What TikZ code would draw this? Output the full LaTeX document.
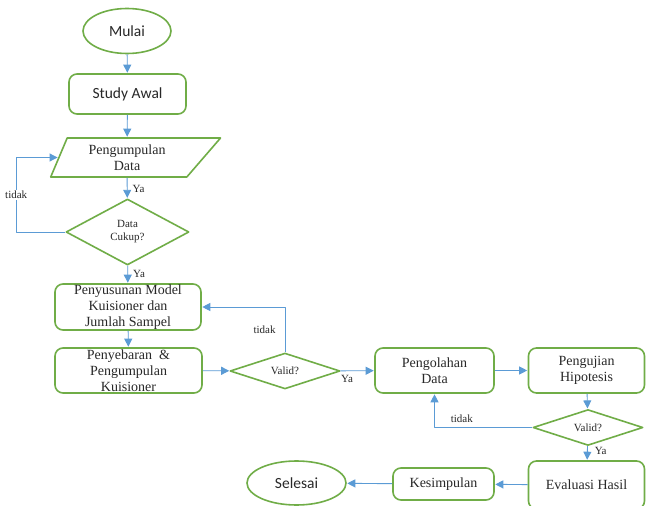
\documentclass[tikz,border=0pt]{standalone}
\usepackage{fontspec}
\setmainfont{Liberation Serif}
\newfontfamily\calibri{Carlito}
\usetikzlibrary{shapes.geometric,arrows.meta}
\definecolor{hijau}{RGB}{112,173,71}
\definecolor{biru}{RGB}{91,155,213}
\definecolor{teks}{RGB}{40,40,40}
\begin{document}
\begin{tikzpicture}[x=1pt,y=-1pt,>={Triangle[length=8pt,width=8pt]},line join=round,
    kotak/.style={draw=hijau,line width=1.6pt,rounded corners=8pt,align=center,inner sep=0pt,text=teks,font=\fontsize{14}{16}\selectfont},
    oval/.style={draw=hijau,line width=1.6pt,ellipse,inner sep=0pt,text=teks,font=\calibri\fontsize{15.5}{18}\selectfont},
    belah/.style={draw=hijau,line width=1.6pt,diamond,inner sep=0pt,align=center,text=teks,font=\fontsize{11}{13}\selectfont},
    panah/.style={->,draw=biru,line width=0.9pt,shorten >=0.5pt},
    ket/.style={text=teks,font=\fontsize{11}{13}\selectfont,inner sep=1pt}]
    \useasboundingbox[fill=white] (0,0) rectangle (646,506);
    %	\draw[step=20,gray,very thin] (0,0) grid (646,506);
    \node[oval,minimum width=88,minimum height=45] (mulai) at (127,31) {Mulai};
    \node[kotak,font=\calibri\fontsize{15.5}{18}\selectfont,minimum width=117,minimum height=40] (study) at (127.5,94) {Study Awal};
    \node[draw=hijau,line width=1.6pt,trapezium,trapezium left angle=67.7,trapezium right angle=130,
        trapezium stretches,minimum width=170,minimum height=39,inner sep=0pt,align=center,
        text=teks,font=\fontsize{14}{16}\selectfont] (kumpul) at (127,157.5) {Pengumpulan\\Data};
    \node[belah,minimum width=123,minimum height=66] (cukup) at (127.5,232) {Data\\Cukup?};
    \node[kotak,minimum width=146,minimum height=46] (susun) at (128,307) {Penyusunan Model\\Kuisioner dan\\Jumlah Sampel};
    \node[kotak,minimum width=147,minimum height=45] (sebar) at (128.5,370.5) {Penyebaran\ \ \&\\Pengumpulan\\Kuisioner};
    \node[belah,minimum width=110,minimum height=34] (valid1) at (285,371) {Valid?};
    \node[kotak,minimum width=119,minimum height=45] (olah) at (434.5,370.5) {Pengolahan\\Data};
    \node[kotak,minimum width=116,minimum height=45] (uji) at (586.5,370.5) {Pengujian\\Hipotesis};
    \node[belah,minimum width=110,minimum height=35] (valid2) at (588,427.5) {Valid?};
    \node[kotak,minimum width=116,minimum height=48] (evaluasi) at (586.5,485) {Evaluasi Hasil};
    \node[kotak,minimum width=101,minimum height=32] (simpul) at (443.5,484) {Kesimpulan};
    \node[oval,minimum width=99,minimum height=44] (selesai) at (296.5,483) {Selesai};

    \draw[panah] (mulai) -- (study);
    \draw[panah] (study) -- (kumpul);
    \draw[panah] (kumpul) -- node[ket,right=4pt,pos=0.55]{Ya} (cukup);
    \draw[panah] (cukup.west) -- ++(-49,0) |- node[ket,fill=white,pos=0.25]{tidak} (kumpul.west);
    \draw[panah] (cukup) -- node[ket,right=4pt,pos=0.5]{Ya} (susun);
    \draw[panah] (susun) -- (sebar);
    \draw[panah] (sebar) -- (valid1);
    \draw[panah] (valid1.north) |- node[ket,left=8pt,pos=0.25]{tidak} (susun.east);
    \draw[panah] (valid1) -- node[ket,below=3pt,pos=0.2]{Ya} (olah);
    \draw[panah] (olah) -- (uji);
    \draw[panah] (uji) -- (valid2);
    \draw[panah] (valid2.west) -| node[ket,above=3pt,pos=0.36]{tidak} (olah.south);
    \draw[panah] (valid2) -- node[ket,right=6pt,pos=0.35]{Ya} (evaluasi);
    \draw[panah] (evaluasi) -- (simpul);
    \draw[panah] (simpul) -- (selesai);
\end{tikzpicture}
\end{document}
